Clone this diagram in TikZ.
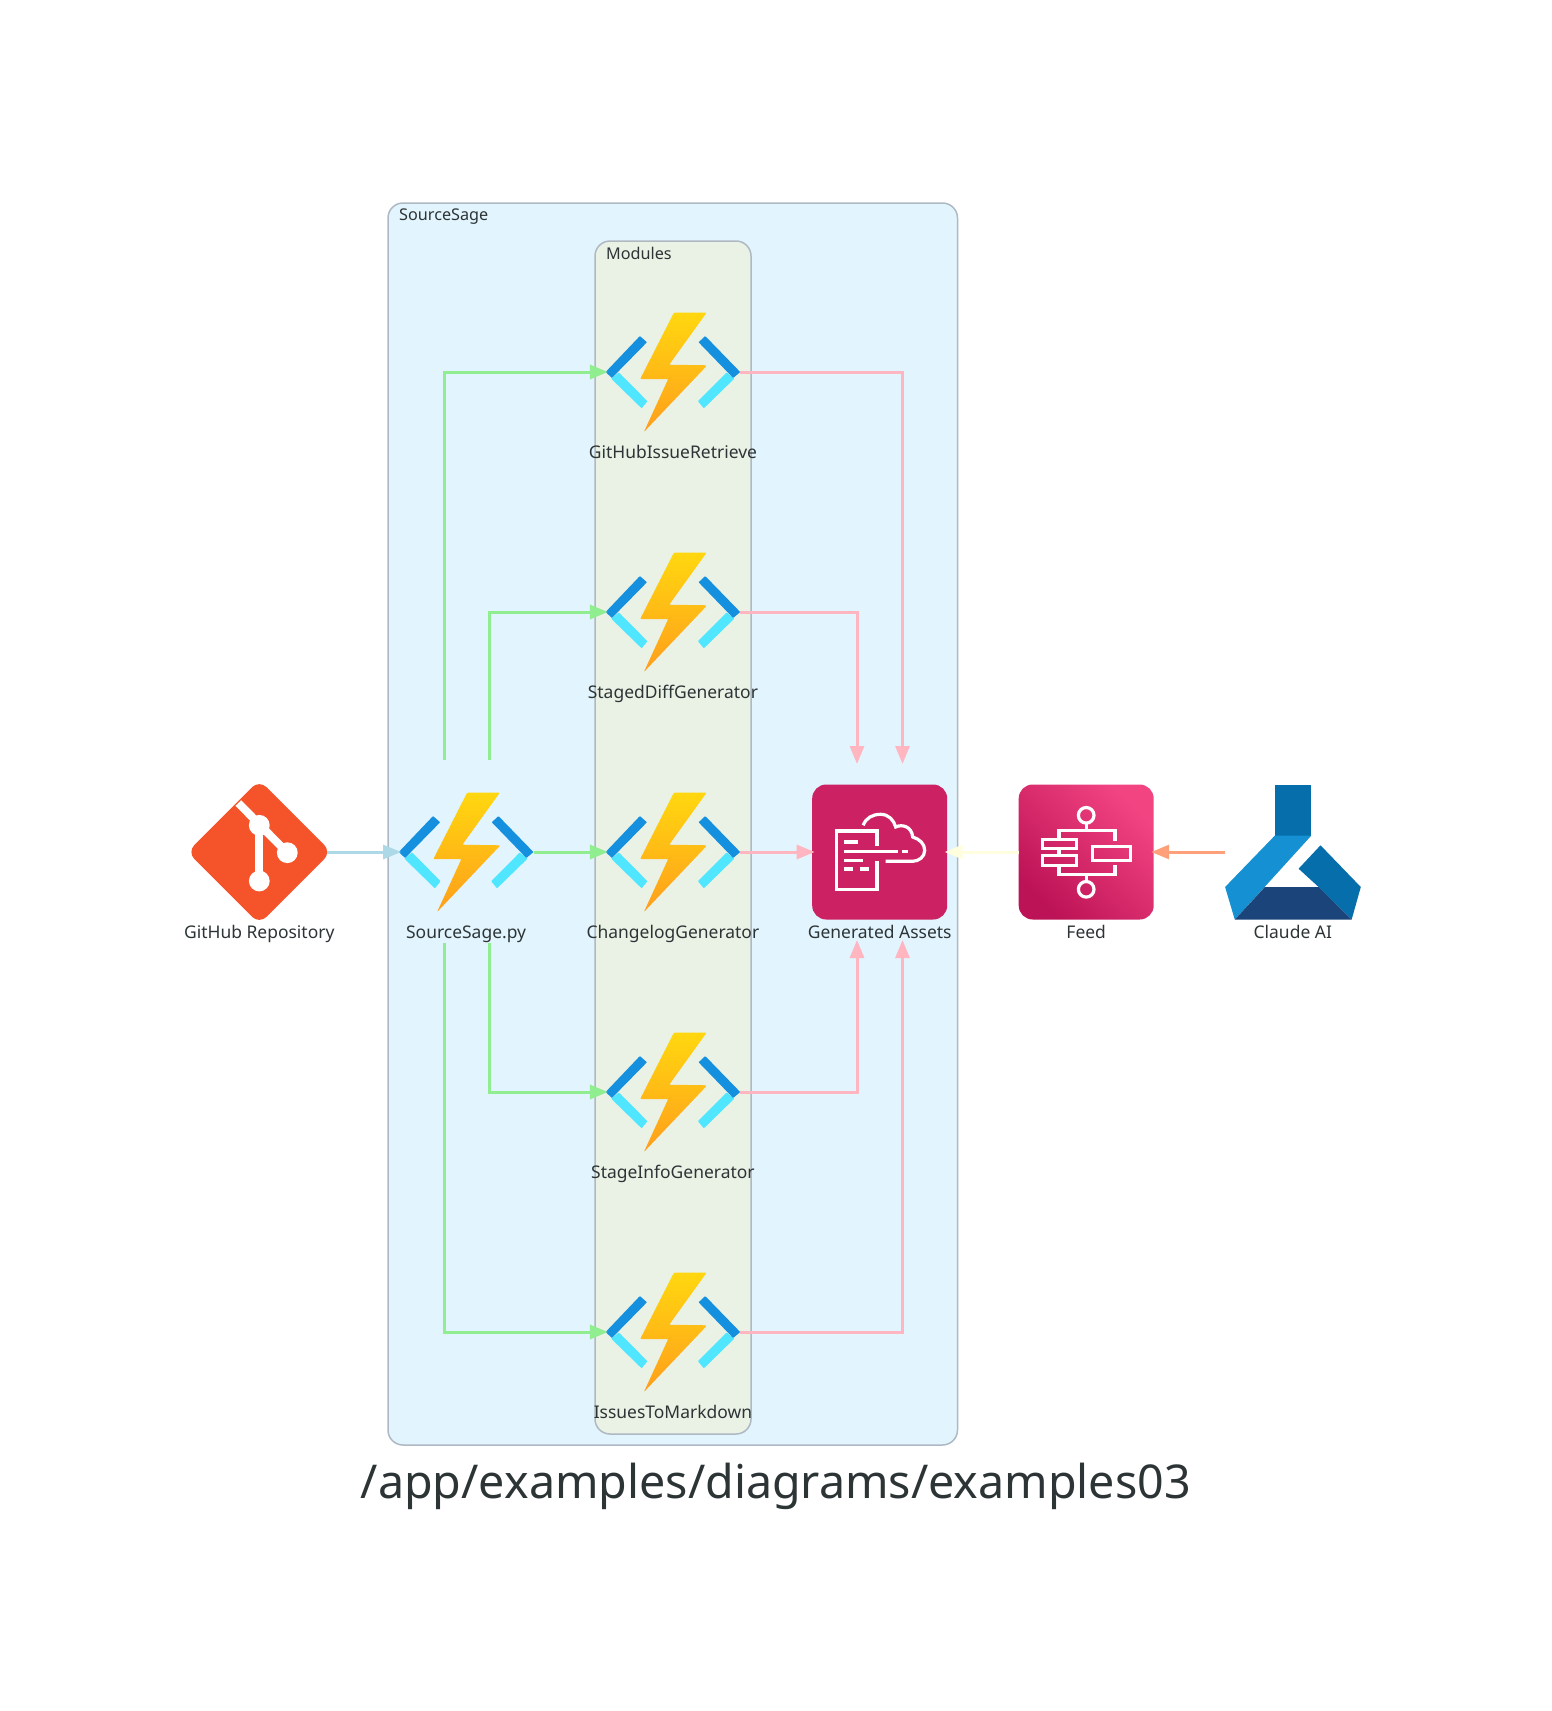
\documentclass[tikz,border=0pt]{standalone}
\usepackage{fontspec}
\setmainfont{Noto Sans}
\usetikzlibrary{arrows.meta}
\definecolor{txt}{HTML}{2D3436}
\definecolor{outerfill}{HTML}{E2F4FD}
\definecolor{innerfill}{HTML}{EAF2E6}
\definecolor{clusterline}{HTML}{AEB9C4}
\definecolor{cblue}{HTML}{ADD8E6}
\definecolor{cgreen}{HTML}{90EE90}
\definecolor{cpink}{HTML}{FFB6C1}
\definecolor{cyellow}{HTML}{FFFFE0}
\definecolor{csalmon}{HTML}{FFA07A}
\definecolor{boltTop}{HTML}{FFD70F}
\definecolor{boltBot}{HTML}{FF9E1C}
\definecolor{chevDark}{HTML}{1490DF}
\definecolor{chevLight}{HTML}{50E6FF}
\definecolor{gitred}{HTML}{F5532A}
\definecolor{awsflat}{HTML}{CC2264}
\definecolor{awsA}{HTML}{BC1356}
\definecolor{awsB}{HTML}{F34482}
\definecolor{mlDark}{HTML}{066EAB}
\definecolor{mlMid}{HTML}{1590D2}
\definecolor{mlNavy}{HTML}{1A447A}
\tikzset{
  iconbox/.style={minimum size=135pt,inner sep=0pt,outer sep=0pt},
  lbl/.style={anchor=base,inner sep=0pt,text=txt,font=\fontsize{17.45}{20}\selectfont},
  grp/.style={anchor=base west,inner sep=0pt,text=txt,font=\fontsize{16.2}{19}\selectfont},
  clusterbox/.style={draw=clusterline,line width=1.5pt,rounded corners=15pt},
  edgeline/.style={line width=3pt,-{Triangle[length=18pt,width=14pt]},shorten >=-2.5pt},
  whiteline/.style={draw=white,line width=3.2pt,line cap=butt,line join=miter},
  chevbar/.style={line width=1.4pt,line join=round},
  funcicon/.pic={
    \filldraw[chevLight,chevbar] (-60.6,6.7) -- (-54,1.4) -- (-26.4,29.3) -- (-31.3,35.3) -- cycle;
    \filldraw[chevLight,chevbar] (60.3,6.7) -- (53.7,1.4) -- (26,29.3) -- (31,35.3) -- cycle;
    \filldraw[chevDark,chevbar] (-66.3,0) -- (-33,-35) -- (-27,-29.7) -- (-61,5) -- cycle;
    \filldraw[chevDark,chevbar] (66.3,0) -- (32.3,-35) -- (26.7,-29.7) -- (60.3,5) -- cycle;
    \shade[top color=boltTop,bottom color=boltBot,rounded corners=1pt]
      (1,-59.3) -- (33.7,-59.3) -- (-3.7,-7.3) -- (34.3,-6.7) -- (-29,60) -- (-4.7,7) -- (-32.7,7) -- cycle;
  },
  giticon/.pic={
    \fill[gitred,rounded corners=10pt] (0,-72) -- (72,0) -- (0,72) -- (-72,0) -- cycle;
    \draw[white,line width=8pt] (-21,-49) -- (28,0.7);
    \draw[white,line width=8pt] (0,-26.7) -- (0,29);
    \fill[white] (0,-26.7) circle (10.4pt) (28,0.7) circle (10.4pt) (0,29) circle (10.4pt);
  },
  assetsicon/.pic={
    \fill[awsflat,rounded corners=14pt] (-67.5,-67.5) rectangle (67.5,67.5);
    \draw[whiteline] (-2.7,-5.7) -- (-2.7,-21) -- (-43.5,-21) -- (-43.5,37.7) -- (-2.7,37.7) -- (-2.7,9);
    \draw[whiteline] (-35.8,-10) -- (-21.5,-10) (-35.8,-.7) -- (18,-.7) (22,-.7) -- (28.5,-.7)
      (-35.8,8.3) -- (-16.5,8.3) (-35.8,17) -- (-26.5,17) (-19.6,17) -- (-10.8,17);
    \draw[whiteline] (-16.5,-26.7) .. controls (-14,-34) and (-7,-37.7) .. (0.8,-37.7)
      .. controls (9,-37.7) and (14,-32) .. (16,-25)
      .. controls (22,-28) and (32,-26) .. (33,-15)
      .. controls (40,-13) and (45,-8) .. (45,-1.7)
      .. controls (45,5) and (39,9.3) .. (32.7,9.3) -- (5.8,9.3);
  },
  feedicon/.pic={
    \shade[top color=awsB,bottom color=awsA,shading angle=-45,rounded corners=14pt] (-67.5,-67.5) rectangle (67.5,67.5);
    \draw[whiteline] (0,-36.7) circle (7.8pt) (0,37.3) circle (7.8pt);
    \draw[whiteline] (0,-28.5) -- (0,-21.7) (0,22.7) -- (0,30);
    \draw[whiteline] (-27.3,-12.7) -- (-27.3,-21.7) -- (28.8,-21.7) -- (28.8,-11);
    \draw[whiteline] (-27.3,13.3) -- (-27.3,22.7) -- (28.8,22.7) -- (28.8,13);
    \draw[whiteline] (-27.3,-3.3) -- (-27.3,3.3);
    \draw[whiteline] (-43.8,-12.7) rectangle (-10,-3.3);
    \draw[whiteline] (-43.8,3.3) rectangle (-10,13.3);
    \draw[whiteline] (6.5,-5.7) rectangle (44,8.3);
  },
  claudeicon/.pic={
    \fill[mlDark] (-18.1,-67.3) rectangle (18.4,-16.3);
    \fill[mlMid] (-18.1,-16.3) -- (18.4,-16.3) -- (-58,67.7) -- (-67.7,35) -- cycle;
    \fill[mlDark] (27.7,-6.7) -- (68,35) -- (58.8,67.7) -- (25.8,35) -- (5.8,16.7) -- cycle;
    \fill[mlNavy] (-28,35) -- (25.8,35) -- (58.8,67.7) -- (-58,67.7) -- cycle;
  },
}
\begin{document}
\begin{tikzpicture}[x=1pt,y=-1pt]
\useasboundingbox (0,0) rectangle (1552,1711);
% clusters
\draw[clusterbox,fill=outerfill] (388,203) rectangle (957.5,1445);
\draw[clusterbox,fill=innerfill] (595,241) rectangle (751,1434);
\node[grp] (gOuter) at (399,220.5) {SourceSage};
\node[grp] (gInner) at (606,259) {Modules};
% icon nodes
\node[iconbox] (git) at (259.3,852) {};
\node[iconbox] (src) at (466.1,852) {};
\node[iconbox] (modA) at (672.9,372) {};
\node[iconbox] (modB) at (672.9,612) {};
\node[iconbox] (modC) at (672.9,852) {};
\node[iconbox] (modD) at (672.9,1092) {};
\node[iconbox] (modE) at (672.9,1332) {};
\node[iconbox] (gen) at (879.7,852) {};
\node[iconbox] (feed) at (1086.2,852) {};
\node[iconbox] (claude) at (1292.8,852) {};
\pic at (git) {giticon};
\pic at (src) {funcicon};
\pic at (modA) {funcicon};
\pic at (modB) {funcicon};
\pic at (modC) {funcicon};
\pic at (modD) {funcicon};
\pic at (modE) {funcicon};
\pic at (gen) {assetsicon};
\pic at (feed) {feedicon};
\pic at (claude) {claudeicon};
% labels
\node[lbl] (tGit) at (259.3,938.5) {GitHub Repository};
\node[lbl] (tSrc) at (466.1,938.5) {SourceSage.py};
\node[lbl] (tA) at (672.9,458.5) {GitHubIssueRetrieve};
\node[lbl] (tB) at (672.9,698.5) {StagedDiffGenerator};
\node[lbl] (tC) at (672.9,938.5) {ChangelogGenerator};
\node[lbl] (tD) at (672.9,1178.5) {StageInfoGenerator};
\node[lbl] (tE) at (672.9,1418.5) {IssuesToMarkdown};
\node[lbl] (tGen) at (879.7,938.5) {Generated Assets};
\node[lbl] (tFeed) at (1086.2,938.5) {Feed};
\node[lbl] (tClaude) at (1292.8,938.5) {Claude AI};
\node[anchor=base,inner sep=0pt,text=txt,font=\fontsize{46.6}{56}\selectfont] (title) at (775.8,1498) {/app/examples/diagrams/examples03};
% connector ends
\coordinate (srcUpA) at (444,760);
\coordinate (srcUpB) at (489.3,760);
\coordinate (srcDnA) at (444,943);
\coordinate (srcDnB) at (489.3,943);
\coordinate (genUpA) at (902.5,764);
\coordinate (genUpB) at (857,764);
\coordinate (genDnA) at (902.5,940);
\coordinate (genDnB) at (857,940);
% connectors
\draw[edgeline,draw=cblue] (git.east) -- (src.west);
\draw[edgeline,draw=cgreen] (src.east) -- (modC.west);
\draw[edgeline,draw=cgreen] (srcUpA) |- (modA.west);
\draw[edgeline,draw=cgreen] (srcUpB) |- (modB.west);
\draw[edgeline,draw=cgreen] (srcDnB) |- (modD.west);
\draw[edgeline,draw=cgreen] (srcDnA) |- (modE.west);
\draw[edgeline,draw=cpink,shorten >=0pt] (modA.east) -| (genUpA);
\draw[edgeline,draw=cpink,shorten >=0pt] (modB.east) -| (genUpB);
\draw[edgeline,draw=cpink] (modC.east) -- (gen.west);
\draw[edgeline,draw=cpink,shorten >=0pt] (modD.east) -| (genDnB);
\draw[edgeline,draw=cpink,shorten >=0pt] (modE.east) -| (genDnA);
\draw[edgeline,draw=cyellow] (feed.west) -- (gen.east);
\draw[edgeline,draw=csalmon] (claude.west) -- (feed.east);
\end{tikzpicture}
\end{document}
